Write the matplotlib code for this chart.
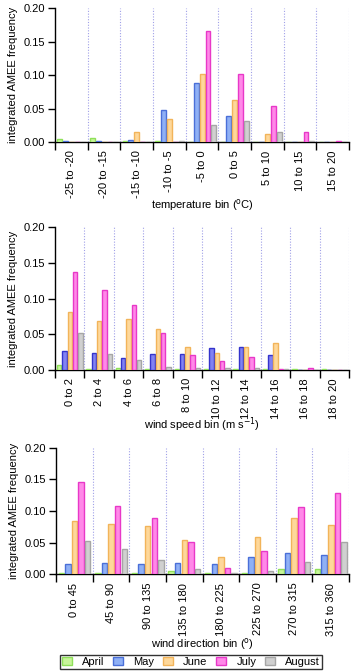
import matplotlib
matplotlib.use("Agg")
import matplotlib.pyplot as plt
from matplotlib.patches import Patch
import numpy as np

plt.rcParams['font.family'] = ['Liberation Sans', 'DejaVu Sans']

months = ["April", "May", "June", "July", "August"]

# temperature bins
temp_bins = ["-25 to -20", "-20 to -15", "-15 to -10", "-10 to -5", "-5 to 0",
             "0 to 5", "5 to 10", "10 to 15", "15 to 20"]
temp_april = [0.005, 0.007, 0.002, 0.002, 0, 0, 0, 0, 0]
temp_may = [0.002, 0.002, 0.004, 0.048, 0.089, 0.039, 0, 0, 0]
temp_june = [0, 0, 0.016, 0.035, 0.101, 0.063, 0.012, 0.001, 0]
temp_july = [0, 0, 0, 0, 0.166, 0.102, 0.054, 0.015, 0.002]
temp_aug = [0, 0, 0.001, 0.002, 0.025, 0.032, 0.016, 0.002, 0]

# wind speed bins
ws_bins = ["0 to 2", "2 to 4", "4 to 6", "6 to 8", "8 to 10", "10 to 12",
           "12 to 14", "14 to 16", "16 to 18", "18 to 20"]
ws_april = [0.007, 0.001, 0.002, 0.001, 0.001, 0.001, 0.001, 0.001, 0.001, 0.001]
ws_may = [0.026, 0.024, 0.017, 0.022, 0.022, 0.030, 0.032, 0.021, 0, 0]
ws_june = [0.081, 0.068, 0.072, 0.057, 0.032, 0.024, 0.032, 0.038, 0, 0]
ws_july = [0.137, 0.112, 0.091, 0.051, 0.020, 0.012, 0.018, 0.001, 0.003, 0]
ws_aug = [0.052, 0.022, 0.013, 0.004, 0.002, 0.002, 0.002, 0.001, 0, 0]

# wind direction bins
wd_bins = ["0 to 45", "45 to 90", "90 to 135", "135 to 180", "180 to 225",
           "225 to 270", "270 to 315", "315 to 360"]
wd_april = [0.002, 0.002, 0.002, 0.005, 0.002, 0.002, 0.008, 0.009]
wd_may = [0.017, 0.018, 0.016, 0.018, 0.017, 0.027, 0.033, 0.031]
wd_june = [0.084, 0.079, 0.077, 0.054, 0.028, 0.059, 0.089, 0.078]
wd_july = [0.145, 0.108, 0.089, 0.051, 0.010, 0.037, 0.106, 0.128]
wd_aug = [0.053, 0.040, 0.023, 0.008, 0.002, 0.006, 0.019, 0.051]

fills = ["#c8f59a", "#8fb0f5", "#fed89a", "#ff88e8", "#d0d0d0"]
edges = ["#8fe05a", "#4a6fd8", "#f2b45a", "#e838c8", "#a6a6a6"]
blue_mid = ("#8282f2", "#3434cc")

fig = plt.figure(figsize=(3.53, 6.71), dpi=100)


def panel(rect, bins, series, xlabel, fill_list, edge_list, xlab_y):
    ax = fig.add_axes(rect)
    n = len(bins)
    x = np.arange(n)
    for j, vals in enumerate(series):
        ax.bar(x + 0.14 + 0.18 * j, vals, width=0.15, align='center',
               color=fill_list[j], edgecolor=edge_list[j], linewidth=1.0, zorder=3)
    # dotted separators between bins
    for b in range(1, n + 1):
        ax.axvline(b, color="#a0a0e8", linestyle=(0, (1, 1.5)), linewidth=0.8, zorder=1)
    ax.set_xlim(0, n)
    ax.set_ylim(0, 0.2)
    ax.set_yticks([0, 0.05, 0.10, 0.15, 0.20])
    ax.set_yticklabels(["0.00", "0.05", "0.10", "0.15", "0.20"])
    ax.set_xticks(np.arange(0, n + 1))
    ax.set_xticklabels([])
    ax.set_xticks(x + 0.5, minor=True)
    ax.set_xticklabels(bins, minor=True, rotation=90, va='top', ha='center')
    ax.tick_params(axis='x', which='major', length=6, width=1, direction='out')
    ax.tick_params(axis='x', which='minor', length=0, pad=6, labelsize=8)
    ax.tick_params(axis='y', length=5, width=1, pad=2, labelsize=8)
    for s in ['top', 'right']:
        ax.spines[s].set_visible(False)
    for s in ['left', 'bottom']:
        ax.spines[s].set_linewidth(1)
    ax.set_ylabel("integrated AMEE frequency", fontsize=8, labelpad=4)
    fig.text(rect[0] + rect[2] / 2, xlab_y, xlabel, ha='center', va='center', fontsize=8)
    return ax


panel([0.156, 0.788, 0.833, 0.200], temp_bins,
      [temp_april, temp_may, temp_june, temp_july, temp_aug],
      "temperature bin ($^{\\mathrm{o}}$C)", fills, edges, 1 - 205 / 671)

fills_mid = list(fills)
edges_mid = list(edges)
fills_mid[1], edges_mid[1] = blue_mid
panel([0.156, 0.449, 0.833, 0.212], ws_bins,
      [ws_april, ws_may, ws_june, ws_july, ws_aug],
      "wind speed bin (m s$^{\\mathrm{-1}}$)", fills_mid, edges_mid, 1 - 425 / 671)

panel([0.159, 0.144, 0.830, 0.189], wd_bins,
      [wd_april, wd_may, wd_june, wd_july, wd_aug],
      "wind direction bin ($^{\\mathrm{o}}$)", fills, edges, 1 - 644 / 671)

handles = [Patch(facecolor=fills[j], edgecolor=edges[j], linewidth=1) for j in range(5)]
leg = fig.legend(handles, months, loc='upper center', bbox_to_anchor=(0.541, 1 - 655 / 671),
                 ncol=5, fontsize=8, frameon=True, fancybox=False, edgecolor='black',
                 handlelength=0.9, handleheight=0.7, columnspacing=0.8, handletextpad=0.9,
                 borderpad=0.2, borderaxespad=0)
leg.get_frame().set_linewidth(1)

fig.savefig("out.png", dpi=100)
